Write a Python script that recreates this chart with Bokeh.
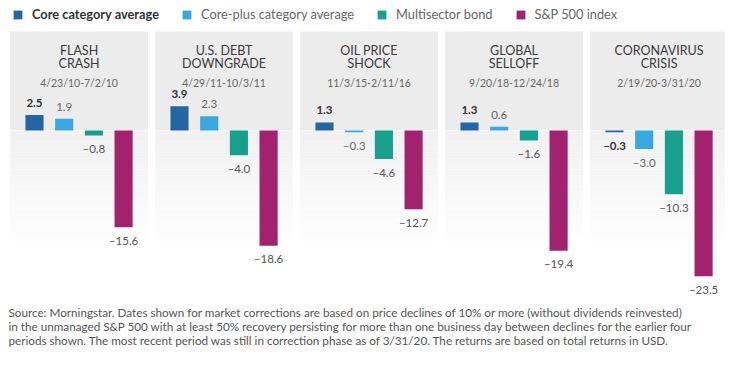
from bokeh.plotting import figure
from bokeh.models import Range1d, ColumnDataSource, LabelSet, Label, Legend, LegendItem
from bokeh.core.properties import value
from bokeh.embed import file_html
from bokeh.resources import INLINE

# ---------------- data ----------------
title_line1 = ["FLASH", "U.S. DEBT", "OIL PRICE", "GLOBAL", "CORONAVIRUS"]
title_line2 = ["CRASH", "DOWNGRADE", "SHOCK", "SELLOFF", "CRISIS"]
dates = ["4/23/10-7/2/10", "4/29/11-10/3/11", "11/3/15-2/11/16", "9/20/18-12/24/18", "2/19/20-3/31/20"]
series_names = ["Core category average", "Core-plus category average", "Multisector bond", "S&P 500 index"]
core = [2.5, 3.9, 1.3, 1.3, -0.3]
core_plus = [1.9, 2.3, -0.3, 0.6, -3.0]
multisector = [-0.8, -4.0, -4.6, -1.6, -10.3]
sp500 = [-15.6, -18.6, -12.7, -19.4, -23.5]
footnote = [
    "Source: Morningstar. Dates shown for market corrections are based on price declines of 10% or more (without dividends reinvested)",
    "in the unmanaged S&P 500 with at least 50% recovery persisting for more than one business day between declines for the earlier four",
    "periods shown. The most recent period was still in correction phase as of 3/31/20. The returns are based on total returns in USD.",
]

# ---------------- style / layout ----------------
colors = ["#2465a4", "#38a8e0", "#17a08e", "#a2226f"]
label_colors = ["#333333", "#666666", "#555555", "#555555"]
FONT = "Lato"
W, H = 725, 349
PX_X = 29.7          # px per x unit (bar pitch)
PX_Y = 6.2           # px per percentage point
ZERO_PX = 130        # canvas y of the zero line
X0_PX = 34           # canvas x of first bar centre
GROUP = 145 / PX_X   # panel pitch in x units
BAR_W = 0.61

p = figure(width=W, height=H, output_backend="svg", toolbar_location=None,
           x_range=Range1d(-X0_PX / PX_X, (W - X0_PX) / PX_X),
           y_range=Range1d(-(H - ZERO_PX) / PX_Y, ZERO_PX / PX_Y),
           x_axis_location=None, y_axis_location=None, min_border=0,
           outline_line_color=None, background_fill_color="white",
           border_fill_color="white")
p.grid.visible = False

n = len(core)
centers = [g * GROUP + 1.5 for g in range(n)]
pan_left = [c - 2.32 for c in centers]
pan_right = [c + 2.32 for c in centers]
pan_top = (ZERO_PX - 31) / PX_Y

# panel backgrounds: flat grey above zero, fading below
p.quad(left=pan_left, right=pan_right, top=[pan_top] * n, bottom=[0] * n,
       fill_color="#ececec", line_color=None)
steps = 20
fade_depth = 18.0
for k in range(steps):
    t = k / steps
    g = int(0xf1 + (0xff - 0xf1) * t)
    col = "#%02x%02x%02x" % (g, g, g)
    p.quad(left=pan_left, right=pan_right, top=[-fade_depth * t] * n,
           bottom=[-fade_depth * (k + 1) / steps] * n, fill_color=col, line_color=None)
p.segment(x0=pan_left, x1=pan_right, y0=[0] * n, y1=[0] * n, line_color="#f8f8f8", line_width=1)

# bars
all_series = [core, core_plus, multisector, sp500]
renderers = []
for s, vals in enumerate(all_series):
    xs = [g * GROUP + s for g in range(n)]
    src = ColumnDataSource(dict(
        x=xs, top=vals,
        txt=[("%.1f" % v).replace("-", "\u2013") for v in vals],
        off=[12 if v >= 0 else -13 for v in vals],
    ))
    r = p.vbar(x="x", top="top", bottom=0, width=BAR_W, source=src,
               fill_color=colors[s], line_color=None)
    renderers.append(r)
    p.add_layout(LabelSet(x="x", y="top", text="txt", y_offset="off", source=src,
                          text_align="center", text_baseline="middle",
                          text_font=value(FONT), text_font_size="11.5px",
                          text_font_style="bold" if s == 0 else "normal",
                          text_color=label_colors[s]))

# panel titles and dates
tsrc = ColumnDataSource(dict(x=centers, l1=title_line1, l2=title_line2, d=dates))
for field, ypos, size, col in [("l1", H - 50, "12.5px", "#3a3a3a"),
                               ("l2", H - 63, "12.5px", "#3a3a3a"),
                               ("d", H - 82, "10.5px", "#666666")]:
    p.add_layout(LabelSet(x="x", y=ypos, y_units="screen", text=field, source=tsrc,
                          text_align="center", text_baseline="middle",
                          text_font=value(FONT), text_font_size=size, text_color=col))

# legend
leg1 = Legend(items=[LegendItem(label=series_names[0], renderers=[renderers[0]])],
              location=(12, H - 22), orientation="horizontal")
leg2 = Legend(items=[LegendItem(label=series_names[i], renderers=[renderers[i]]) for i in range(1, 4)],
              location=(181, H - 22), orientation="horizontal")
for lg, bold in [(leg1, True), (leg2, False)]:
    lg.padding = 0
    lg.margin = 0
    lg.spacing = 22
    lg.glyph_width = 11
    lg.glyph_height = 11
    lg.label_height = 12
    lg.label_standoff = 9
    lg.border_line_color = None
    lg.background_fill_alpha = 0
    lg.label_text_font = FONT
    lg.label_text_font_size = "12.8px"
    lg.label_text_color = "#333333" if bold else "#666666"
    lg.label_text_font_style = "bold" if bold else "normal"
    p.add_layout(lg)

# footnote
for i, line in enumerate(footnote):
    p.add_layout(Label(x=8, y=H - 311 - 14 * i, x_units="screen", y_units="screen",
                       text=line, text_baseline="middle", text_font=FONT,
                       text_font_size="11.7px", text_color="#555555"))

open("out.html", "w").write(file_html(p, INLINE))
